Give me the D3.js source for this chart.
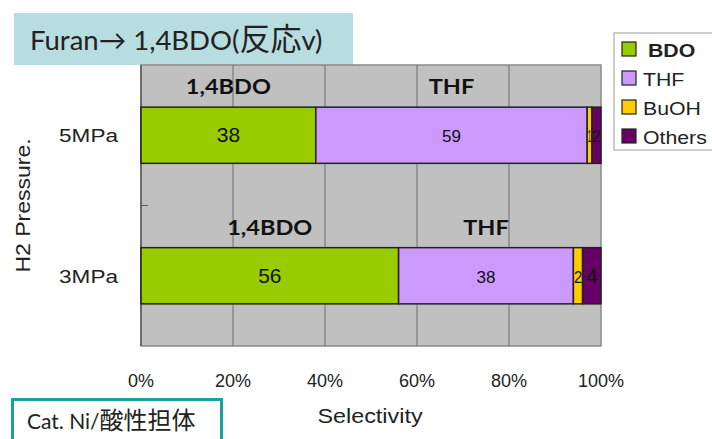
<!DOCTYPE html>
<html><head><meta charset="utf-8">
<script src="https://cdn.jsdelivr.net/npm/d3@7"></script>
<style>
body{margin:0;background:#fff;}
svg{display:block;}
</style></head>
<body>
<svg id="chart" width="712" height="439"></svg>
<script>
const categories = ["5MPa", "3MPa"];
const seriesNames = ["BDO", "THF", "BuOH", "Others"];
const BDO = [38, 56];
const THF = [59, 38];
const BuOH = [1, 2];
const Others = [2, 4];
const xTicks = [0, 20, 40, 60, 80, 100];
const colors = ["#99cc00", "#cc99ff", "#ffcc00", "#660066"];
const titleLatin = "Furan→ 1,4BDO(";
const titleCJK = "反応";
const titleEnd = "v)";
const catLatin = "Cat. Ni/";
const catCJK = "酸性担体";
const annoText = ["1,4BDO", "THF"];

const svg = d3.select("#chart");
const m = {left:141, right:601, top:65, bottom:346};

const x = d3.scaleLinear().domain([0,100]).range([m.left, m.right]);
const y = d3.scaleBand().domain(categories).range([m.top, m.bottom]).paddingInner(0.6).paddingOuter(0.3);
const color = d3.scaleOrdinal().domain(seriesNames).range(colors);

const rows = categories.map((c,i)=>({cat:c, BDO:BDO[i], THF:THF[i], BuOH:BuOH[i], Others:Others[i]}));
const stacked = d3.stack().keys(seriesNames)(rows);

const latin = "'Liberation Sans', Arial, sans-serif";
const cjk = "Lato, 'Noto Sans CJK JP', sans-serif";

function stext(parent, tx, ty, sx, rot) {
  const g = parent.append("g").attr("transform", `translate(${tx},${ty})` + (rot ? ` rotate(${rot})` : "") + ` scale(${sx},1)`);
  return g.append("text").attr("x",0).attr("y",0);
}

// title box
svg.append("rect").attr("x",14).attr("y",13).attr("width",339).attr("height",52).attr("fill","#b7dde0");
const tt = svg.append("text").attr("x",30).attr("y",50).attr("font-family",cjk).attr("font-size",27.5).attr("fill","#222");
tt.append("tspan").text(titleLatin);
tt.append("tspan").attr("font-family","'Noto Sans CJK JP', sans-serif").attr("font-size",31).text(titleCJK);
tt.append("tspan").text(titleEnd);

// plot background
svg.append("rect").attr("x",m.left).attr("y",m.top).attr("width",m.right-m.left).attr("height",m.bottom-m.top)
  .attr("fill","#c0c0c0").attr("stroke","#8a8a8a").attr("stroke-width",1.5);

// gridlines
svg.append("g").selectAll("line").data(xTicks.slice(1,-1)).join("line")
  .attr("x1",d=>x(d)).attr("x2",d=>x(d)).attr("y1",m.top).attr("y2",m.bottom)
  .attr("stroke","#6e6e6e").attr("stroke-width",1);

// left axis line and middle tick
svg.append("line").attr("x1",m.left).attr("x2",m.left).attr("y1",m.top).attr("y2",m.bottom).attr("stroke","#5a5a5a").attr("stroke-width",1.5);
svg.append("line").attr("x1",m.left).attr("x2",m.left+7).attr("y1",(m.top+m.bottom)/2).attr("y2",(m.top+m.bottom)/2).attr("stroke","#5a5a5a").attr("stroke-width",1);

// bars
const gBars = svg.append("g");
stacked.forEach((s)=>{
  gBars.selectAll(null).data(s).join("rect")
    .attr("x",d=>x(d[0])).attr("y",d=>y(d.data.cat))
    .attr("width",d=>x(d[1])-x(d[0])).attr("height",y.bandwidth())
    .attr("fill",color(s.key)).attr("stroke","#222").attr("stroke-width",1.5);
});

// value labels
stacked.forEach((s,k)=>{
  s.forEach(d=>{
    const v = d[1]-d[0];
    const w = x(d[1])-x(d[0]);
    const fs = v<3 ? 17 : (k===1 ? 17 : 21);
    const natural = String(v).length*0.556*fs;
    const sx = v<3 ? Math.min(1, (w-1)/natural) : 1;
    stext(gBars, (x(d[0])+x(d[1]))/2, y(d.data.cat)+y.bandwidth()/2+7, sx)
      .attr("text-anchor","middle")
      .attr("font-family",latin)
      .attr("font-size",fs)
      .attr("fill","#111")
      .text(v);
  });
});

// annotations above bars
[0,1].forEach(k=>{
  stacked[k].forEach(d=>{
    stext(svg, (x(d[0])+x(d[1]))/2, y(d.data.cat)-13, 1.12)
      .attr("text-anchor","middle")
      .attr("font-family","Lato, 'Open Sans', sans-serif").attr("font-weight","bold").attr("font-size",21)
      .attr("fill","#111")
      .text(annoText[k]);
  });
});

// y labels
categories.forEach(c=>{
  stext(svg, 118, y(c)+y.bandwidth()/2+7, 1.22)
    .attr("text-anchor","end").attr("font-family",latin).attr("font-size",18.5).attr("fill","#222")
    .text(c);
});

stext(svg, 30, (m.top+m.bottom)/2, 1.18, -90)
  .attr("text-anchor","middle").attr("font-family",latin).attr("font-size",19.5).attr("fill","#222")
  .text("H2 Pressure.");

// x tick labels
svg.append("g").selectAll("text").data(xTicks).join("text")
  .attr("x",d=>x(d)).attr("y",387)
  .attr("text-anchor","middle").attr("font-family",latin).attr("font-size",18).attr("fill","#222")
  .text(d=>d+"%");

stext(svg, 370, 423, 1.2).attr("text-anchor","middle")
  .attr("font-family",latin).attr("font-size",19.5).attr("fill","#222").text("Selectivity");

// legend
svg.append("rect").attr("x",614).attr("y",33).attr("width",110).attr("height",117)
  .attr("fill","#fff").attr("stroke","#999").attr("stroke-width",1);
const lg = svg.append("g").selectAll("g").data(seriesNames).join("g")
  .attr("transform",(d,i)=>`translate(622,${49+i*29})`);
lg.append("rect").attr("x",0).attr("y",-7).attr("width",14).attr("height",14)
  .attr("fill",d=>color(d)).attr("stroke","#222").attr("stroke-width",1.2);
lg.each(function(d){
  stext(d3.select(this), d==="BDO"?26:21, 7.5, 1.12)
    .attr("font-family",latin).attr("font-size",19)
    .attr("font-weight",d==="BDO"?"bold":"normal").attr("fill","#222").text(d);
});

// catalyst box
svg.append("rect").attr("x",12.5).attr("y",399.5).attr("width",209).attr("height",45)
  .attr("fill","#fff").attr("stroke","#1a9e9e").attr("stroke-width",3);
const ct = svg.append("text").attr("x",27).attr("y",429).attr("font-family",cjk).attr("font-size",21).attr("fill","#222");
ct.append("tspan").text(catLatin);
ct.append("tspan").attr("font-family","'Noto Sans CJK JP', sans-serif").attr("font-size",24).text(catCJK);
</script>
</body></html>
